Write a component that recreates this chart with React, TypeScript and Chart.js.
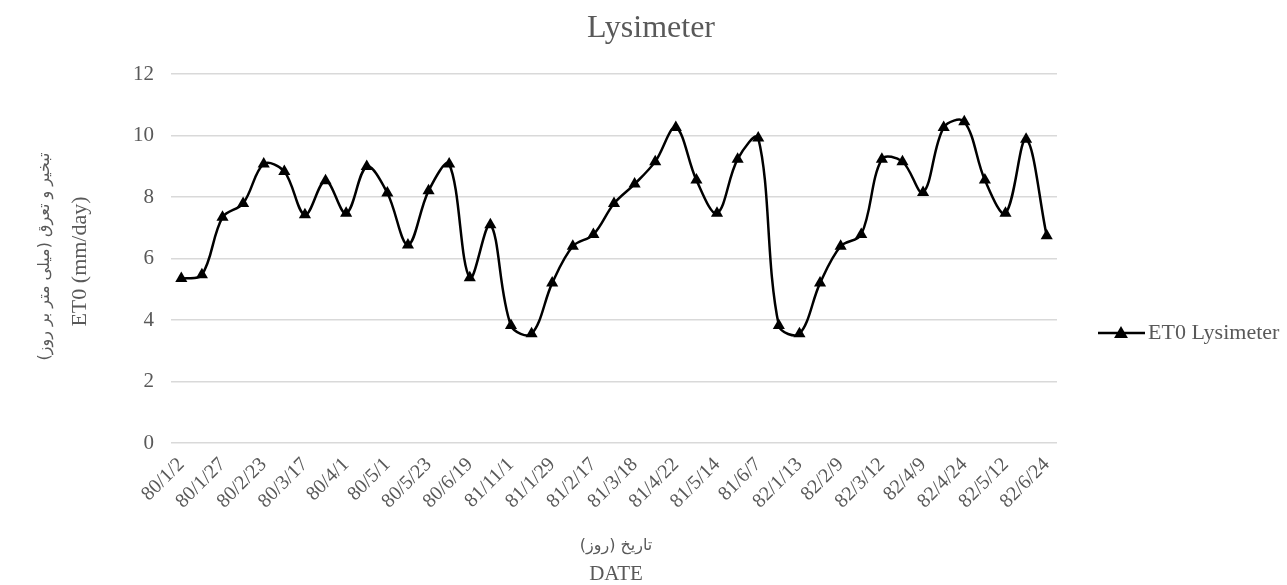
import React, { useEffect, useRef } from "react";
import { Chart, registerables } from "chart.js";

Chart.register(...registerables);

const shownDateLabels: string[] = [
  "80/1/2", "80/1/27", "80/2/23", "80/3/17", "80/4/1", "80/5/1", "80/5/23", "80/6/19",
  "81/11/1", "81/1/29", "81/2/17", "81/3/18", "81/4/22", "81/5/14", "81/6/7",
  "82/1/13", "82/2/9", "82/3/12", "82/4/9", "82/4/24", "82/5/12", "82/6/24",
];

const et0Lysimeter: number[] = [
  5.35, 5.47, 7.34, 7.79, 9.07, 8.83, 7.42, 8.53, 7.47, 8.99, 8.13, 6.44, 8.2, 9.07, 5.37,
  7.1, 3.82, 3.55, 5.2, 6.4, 6.78, 7.79, 8.42, 9.15, 10.26, 8.55, 7.47, 9.23, 9.92, 3.82,
  3.55, 5.2, 6.4, 6.78, 9.23, 9.15, 8.15, 10.26, 10.45, 8.55, 7.47, 9.88, 6.74,
];

const seriesName = "ET0 Lysimeter";
const chartTitle = "Lysimeter";
const yTitleFa = "تبخیر و تعرق (میلی متر بر روز)";
const yTitleEn = "ET0 (mm/day)";
const xTitleFa = "تاریخ (روز)";
const xTitleEn = "DATE";

const TEXT = "#595959";
const SERIF = '"Liberation Serif", "Times New Roman", "DejaVu Sans", serif';
const FA = '"DejaVu Sans", "Noto Sans", sans-serif';

function drawTriangle(ctx: CanvasRenderingContext2D, x: number, y: number, r: number) {
  ctx.beginPath();
  ctx.moveTo(x, y - r);
  ctx.lineTo(x + r * 0.866, y + r * 0.5);
  ctx.lineTo(x - r * 0.866, y + r * 0.5);
  ctx.closePath();
  ctx.fill();
}

const textPlugin = {
  id: "customTexts",
  afterDraw(chart: any) {
    const ctx: CanvasRenderingContext2D = chart.ctx;
    const area = chart.chartArea;
    const midX = (area.left + area.right) / 2;
    const midY = (area.top + area.bottom) / 2;
    ctx.save();
    ctx.fillStyle = TEXT;

    // title
    ctx.font = `32px ${SERIF}`;
    ctx.textAlign = "center";
    ctx.textBaseline = "alphabetic";
    ctx.fillText(chartTitle, 651, 37);

    // y titles
    ctx.save();
    ctx.translate(45, midY - 2);
    ctx.rotate(-Math.PI / 2);
    ctx.font = `16px ${FA}`;
    ctx.textBaseline = "middle";
    (ctx as any).direction = "rtl";
    ctx.textAlign = "center";
    ctx.fillText(yTitleFa, 0, 0);
    ctx.restore();

    ctx.save();
    ctx.translate(80, midY + 3);
    ctx.rotate(-Math.PI / 2);
    ctx.font = `22px ${SERIF}`;
    ctx.textBaseline = "middle";
    ctx.textAlign = "center";
    ctx.fillText(yTitleEn, 0, 0);
    ctx.restore();

    // x titles
    ctx.save();
    ctx.font = `16px ${FA}`;
    (ctx as any).direction = "rtl";
    ctx.textAlign = "center";
    ctx.textBaseline = "middle";
    ctx.fillText(xTitleFa, midX + 2, 546);
    ctx.restore();

    ctx.font = `21px ${SERIF}`;
    ctx.textAlign = "center";
    ctx.textBaseline = "alphabetic";
    ctx.fillText(xTitleEn, midX + 2, 580);

    // legend
    const ly = 333;
    ctx.strokeStyle = "#000";
    ctx.lineWidth = 2.5;
    ctx.beginPath();
    ctx.moveTo(1098, ly);
    ctx.lineTo(1145, ly);
    ctx.stroke();
    ctx.fillStyle = "#000";
    drawTriangle(ctx, 1121, ly + 1, 8);
    ctx.fillStyle = TEXT;
    ctx.font = `22px ${SERIF}`;
    ctx.textAlign = "left";
    ctx.textBaseline = "middle";
    ctx.fillText(seriesName, 1148, ly);

    ctx.restore();
  },
};

export default function App() {
  const ref = useRef<HTMLCanvasElement | null>(null);

  useEffect(() => {
    if (!ref.current) return;
    const labels = et0Lysimeter.map((_, i) => (i % 2 === 0 ? shownDateLabels[i / 2] : ""));
    const chart = new Chart(ref.current, {
      type: "line",
      data: {
        labels,
        datasets: [
          {
            label: seriesName,
            data: et0Lysimeter,
            borderColor: "#000",
            backgroundColor: "#000",
            borderWidth: 2.5,
            tension: 0.35,
            pointStyle: "triangle",
            pointRadius: 7,
            pointHoverRadius: 7,
            pointBackgroundColor: "#000",
            pointBorderColor: "#000",
            pointBorderWidth: 0,
            fill: false,
          },
        ],
      },
      options: {
        responsive: false,
        animation: false,
        events: [],
        layout: { padding: { top: 74, right: 230, bottom: 0, left: 0 } },
        plugins: {
          legend: { display: false },
          title: { display: false },
          tooltip: { enabled: false },
        },
        scales: {
          x: {
            offset: true,
            grid: { display: false, drawTicks: false },
            border: { display: false },
            ticks: {
              autoSkip: false,
              maxRotation: 45,
              minRotation: 45,
              color: TEXT,
              padding: 10,
              font: { family: SERIF, size: 20 },
            },
            afterFit(scale: any) {
              scale.height = 142;
            },
          },
          y: {
            min: 0,
            max: 12,
            ticks: {
              stepSize: 2,
              color: TEXT,
              padding: 17,
              font: { family: SERIF, size: 21 },
            },
            grid: { color: "#d9d9d9", lineWidth: 1.5, drawTicks: false },
            border: { display: false },
            afterFit(scale: any) {
              scale.width = 171;
            },
          },
        },
      },
      plugins: [textPlugin],
    });
    return () => chart.destroy();
  }, []);

  return (
    <div style={{ position: "fixed", left: 0, top: 0, width: 1287, height: 585, background: "#fff" }}>
      <canvas ref={ref} width={1287} height={585} style={{ display: "block" }} />
    </div>
  );
}
